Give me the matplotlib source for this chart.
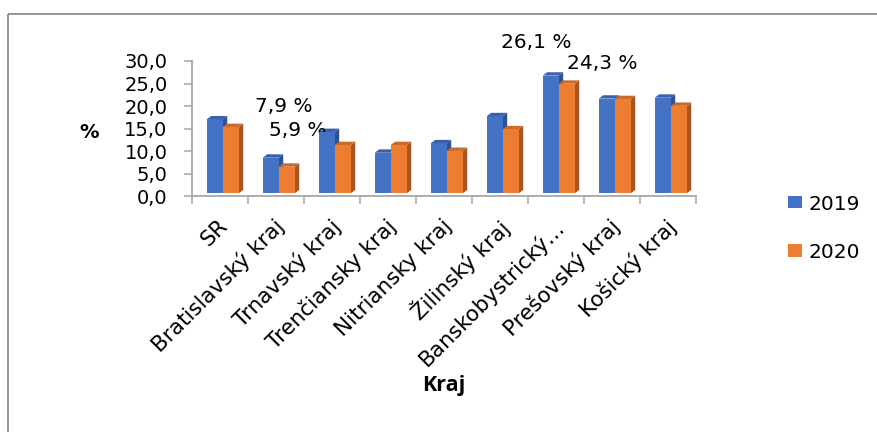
import matplotlib
matplotlib.use("Agg")
import matplotlib.pyplot as plt
from matplotlib.patches import Polygon, Rectangle
from matplotlib.lines import Line2D
from matplotlib.transforms import ScaledTranslation

plt.rcParams['font.family'] = ['DejaVu Sans']

# --- data -------------------------------------------------------------
regions = ["SR", "Bratislavský kraj", "Trnavský kraj", "Trenčiansky kraj",
           "Nitriansky kraj", "Žilinský kraj", "Banskobystrický…",
           "Prešovský kraj", "Košický kraj"]
years = ["2019", "2020"]
values_2019 = [16.4, 7.9, 13.6, 9.0, 11.1, 17.1, 26.1, 21.0, 21.2]
values_2020 = [14.7, 5.9, 10.7, 10.7, 9.4, 14.2, 24.3, 20.9, 19.4]
y_ticks = [0, 5, 10, 15, 20, 25, 30]

# data labels shown on the chart: (series index, category index, label x, label y)
labelled = [(0, 1, 1.14, 20.0), (1, 1, 1.40, 14.7),
            (0, 6, 5.66, 34.2), (1, 6, 6.84, 29.4)]

# --- style ------------------------------------------------------------
front = ["#4472C4", "#ED7D31"]
top = ["#3A62AC", "#C9692A"]
side = ["#2E5291", "#A8561F"]
axis_grey = "#A6A6A6"

W, H = 877, 432
fig = plt.figure(figsize=(W / 100, H / 100), dpi=100)

x0_px, x1_px = 191.7, 695.7
y0_px, y1_px = 196.3, 61.0
ax = fig.add_axes([x0_px / W, 1 - y0_px / H,
                   (x1_px - x0_px) / W, (y0_px - y1_px) / H])
ax.set_xlim(-0.5, len(regions) - 0.5)
ax.set_ylim(0, 30)

# 3D-style columns
bar_w = 0.286
offsets = [-0.232, 0.054]
depth_x, depth_y = 0.08, 0.75
base = 0.66

for s, vals in enumerate([values_2019, values_2020]):
    for i, v in enumerate(vals):
        xl = i + offsets[s]
        xr = xl + bar_w
        yb, yt = base, base + v
        # side face
        ax.add_patch(Polygon([(xr, yb), (xr + depth_x, yb + depth_y),
                              (xr + depth_x, yt + depth_y), (xr, yt)],
                             closed=True, facecolor=side[s], edgecolor='none',
                             zorder=3 + s * 2, clip_on=False))
        # top face
        ax.add_patch(Polygon([(xl, yt), (xl + depth_x, yt + depth_y),
                              (xr + depth_x, yt + depth_y), (xr, yt)],
                             closed=True, facecolor=top[s], edgecolor='none',
                             zorder=3 + s * 2, clip_on=False))
        # front face
        ax.add_patch(Rectangle((xl, yb), bar_w, v, facecolor=front[s],
                               edgecolor='none', zorder=4 + s * 2,
                               clip_on=False))

# axes lines and ticks
for sp in ['top', 'right']:
    ax.spines[sp].set_visible(False)
for sp in ['left', 'bottom']:
    ax.spines[sp].set_color(axis_grey)
    ax.spines[sp].set_linewidth(1.3)

ax.set_yticks(y_ticks)
ax.set_yticklabels([f"{t:.1f}".replace('.', ',') for t in y_ticks])
ax.tick_params(axis='y', direction='out', length=5.5, width=1.1,
               color=axis_grey, labelsize=14, pad=12)
ax.set_xticks([i - 0.5 for i in range(len(regions) + 1)])
ax.set_xticklabels([])
ax.tick_params(axis='x', direction='out', length=5.5, width=1.1,
               color=axis_grey)

# rotated category labels
lab_tr = ax.get_xaxis_transform() + ScaledTranslation(0, -14 / 72,
                                                      fig.dpi_scale_trans)
for i, name in enumerate(regions):
    ax.text(i - 0.04, 0, name, transform=lab_tr, rotation=45,
            rotation_mode='anchor', ha='right', va='top', fontsize=15.5,
            color='black')

# data labels
for s, i, lx, ly in labelled:
    val = [values_2019, values_2020][s][i]
    ax.text(lx, ly, f"{val:.1f}".replace('.', ',') + " %", ha='center',
            va='center', fontsize=14.5, color='black', clip_on=False)

# axis titles
fig.text(89.5 / W, 1 - 133 / H, "%", ha='center', va='center',
         fontsize=14, fontweight='bold')
fig.text(444 / W, 1 - 386 / H, "Kraj", ha='center', va='center',
         fontsize=15.5, fontweight='bold', family='Open Sans')

# legend
for k, (yr, yc) in enumerate(zip(years, [202, 250])):
    fig.patches.append(Rectangle((787.5 / W, 1 - (yc + 6.5) / H), 14 / W,
                                 13 / H, transform=fig.transFigure,
                                 facecolor=front[k], edgecolor='none'))
    fig.text(809 / W, 1 - yc / H, yr, ha='left', va='center_baseline',
             fontsize=14.5)

# chart frame
fig.add_artist(Line2D([7.5 / W, 1.0], [1 - 13.5 / H, 1 - 13.5 / H],
                      transform=fig.transFigure, color="#8C8C8C", lw=1.3,
                      solid_capstyle='butt'))
fig.add_artist(Line2D([7.5 / W, 7.5 / W], [0, 1 - 13.5 / H],
                      transform=fig.transFigure, color="#8C8C8C", lw=1.3,
                      solid_capstyle='butt'))

fig.savefig("out.png", dpi=100)
